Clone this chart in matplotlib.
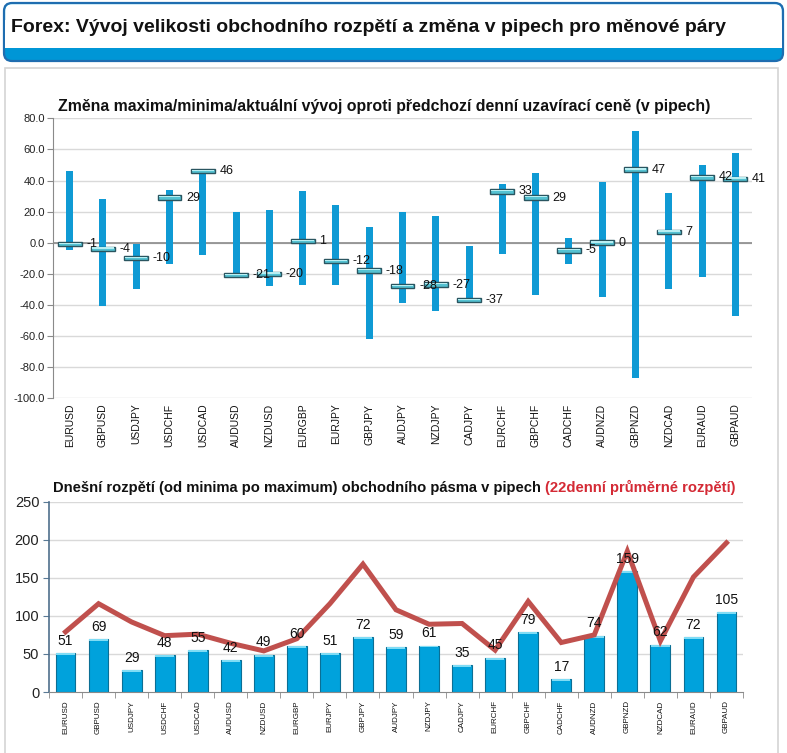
import matplotlib
matplotlib.use("Agg")
import matplotlib.pyplot as plt
from matplotlib.patches import FancyBboxPatch, Rectangle
import numpy as np

plt.rcParams['font.family'] = ['Liberation Sans', 'DejaVu Sans']

pairs = ["EURUSD", "GBPUSD", "USDJPY", "USDCHF", "USDCAD", "AUDUSD", "NZDUSD",
         "EURGBP", "EURJPY", "GBPJPY", "AUDJPY", "NZDJPY", "CADJPY", "EURCHF",
         "GBPCHF", "CADCHF", "AUDNZD", "GBPNZD", "NZDCAD", "EURAUD", "GBPAUD"]
change_max = [46, 28, -1, 34, 47, 20, 21, 33, 24, 10, 20, 17, -2, 38, 45, 3, 39, 72, 32, 50, 58]
change_min = [-5, -41, -30, -14, -8, -22, -28, -27, -27, -62, -39, -44, -37, -7, -34, -14, -35, -87, -30, -22, -47]
change_now = [-1, -4, -10, 29, 46, -21, -20, 1, -12, -18, -28, -27, -37, 33, 29, -5, 0, 47, 7, 42, 41]
range_today = [51, 69, 29, 48, 55, 42, 49, 60, 51, 72, 59, 61, 35, 45, 79, 17, 74, 159, 62, 72, 105]
range_avg22 = [79, 116, 92, 74, 76, 64, 54, 70, 116, 168, 108, 89, 90, 55, 119, 65, 75, 185, 67, 151, 196]

W, H = 787, 753
fig = plt.figure(figsize=(W / 100, H / 100), dpi=100)

# background decoration (pixel coordinates)
bg = fig.add_axes([0, 0, 1, 1], zorder=-5)
bg.set_xlim(0, W)
bg.set_ylim(H, 0)
bg.axis('off')
bg.add_patch(Rectangle((5, 68), 773, 700, facecolor='white', edgecolor='#d4d4d4', lw=1.2))
bg.add_patch(FancyBboxPatch((4, 3), 779, 58, boxstyle="round,pad=0,rounding_size=8",
                            facecolor='#0096d6', edgecolor='#1f6db0', lw=1.6))
bg.add_patch(FancyBboxPatch((5.2, 4.2), 776.6, 30, boxstyle="round,pad=0,rounding_size=7",
                            facecolor='white', edgecolor='none'))
bg.add_patch(Rectangle((5.2, 20), 776.6, 28, facecolor='white', edgecolor='none'))
bg.text(11, 27, "Forex: Vývoj velikosti obchodního rozpětí a změna v pipech pro měnové páry",
        fontsize=14.0, fontweight='bold', va='center', ha='left', color='#111111')

x = np.arange(len(pairs))

# ---------- top chart ----------
ax1 = fig.add_axes([53 / W, 1 - 398 / H, 699 / W, 279.6 / H])
ax1.set_xlim(-0.5, len(pairs) - 0.5)
ax1.set_ylim(-100, 80)
ax1.set_yticks(np.arange(-100, 81, 20))
ax1.set_yticklabels([f"{v:.1f}" for v in np.arange(-100, 81, 20)], fontsize=8, color='#222222')
for v in np.arange(-100, 81, 20):
    ax1.axhline(v, color='#d9d9d9', lw=1, zorder=0)
ax1.axhline(0, color='#8a8a8a', lw=1.2, zorder=1)
for s in ['top', 'right', 'bottom']:
    ax1.spines[s].set_visible(False)
ax1.spines['left'].set_color('#8a8a8a')
ax1.tick_params(axis='y', length=4, color='#8a8a8a', pad=2)
ax1.tick_params(axis='x', length=0, pad=4)
ax1.set_xticks(x)
ax1.set_xticklabels(pairs, rotation=90, fontsize=7.5, color='#111111')
hi = np.array(change_max, float)
lo = np.array(change_min, float)
now = np.array(change_now, float)
ax1.bar(x, hi - lo, bottom=lo, width=0.21, color='#0f9ad4', zorder=2)
ax1.bar(x, 2.8, bottom=now - 1.4, width=0.72, color='#55c2d2', edgecolor='#2a5560', lw=1.0, zorder=3)
ax1.bar(x, 0.9, bottom=now + 0.1, width=0.66, color='#b8eef2', edgecolor='none', zorder=4)
for xi, v in zip(x, change_now):
    ax1.text(xi + 0.5, v, f"{v}", fontsize=9, ha='left', va='center', color='#111111', zorder=5)
ax1.text(58 / W, 1 - 106 / H, "Změna maxima/minima/aktuální vývoj oproti předchozí denní uzavírací ceně (v pipech)",
         transform=fig.transFigure, fontsize=11.4, fontweight='bold', ha='left', va='center', color='#111111')

# ---------- bottom chart ----------
ax2 = fig.add_axes([49 / W, 1 - 692 / H, 694 / W, 190.3 / H])
ax2.set_xlim(-0.5, len(pairs) - 0.5)
ax2.set_ylim(0, 250)
ax2.set_yticks(np.arange(0, 251, 50))
ax2.tick_params(axis='y', labelsize=10.5, length=4, color='#5a7a95', labelcolor='#222222', pad=3)
for v in np.arange(50, 251, 50):
    ax2.axhline(v, color='#d9d9d9', lw=1, zorder=0)
for s in ['top', 'right']:
    ax2.spines[s].set_visible(False)
ax2.spines['left'].set_color('#4f6f8c')
ax2.spines['left'].set_linewidth(1.2)
ax2.spines['bottom'].set_color('#8a8a8a')
ax2.set_xticks(x)
ax2.set_xticklabels(pairs, rotation=90, fontsize=5.8, color='#111111')
ax2.tick_params(axis='x', length=0, pad=6)
ax2.set_xticks(np.arange(-0.5, len(pairs), 1), minor=True)
ax2.tick_params(axis='x', which='minor', length=4, color='#8a8a8a')
rt = np.array(range_today, float)
ax2.bar(x, rt, width=0.6, color='#00a2dc', edgecolor='#0b6f95', lw=0.8, zorder=2)
ax2.bar(x, 2.5, bottom=rt - 2.5, width=0.56, color='#7fdcf5', edgecolor='none', zorder=3)
ax2.plot(x, range_avg22, color='#c0504d', lw=3.6, zorder=4, solid_joinstyle='miter')
for xi, v in zip(x, range_today):
    ax2.annotate(f"{v}", (xi, v), xytext=(0, 6), textcoords='offset points',
                 ha='center', va='baseline', fontsize=10, color='#111111', zorder=5)
t1 = fig.text(53 / W, 1 - 488 / H, "Dnešní rozpětí (od minima po maximum) obchodního pásma v pipech ",
              fontsize=10.6, fontweight='bold', ha='left', va='center', color='#111111')
ax2.annotate("(22denní průměrné rozpětí)", xy=(1, 0), xycoords=t1, ha='left', va='bottom',
             fontsize=10.6, fontweight='bold', color='#d42a35', annotation_clip=False)

fig.savefig("out.png", dpi=100, facecolor='white')
